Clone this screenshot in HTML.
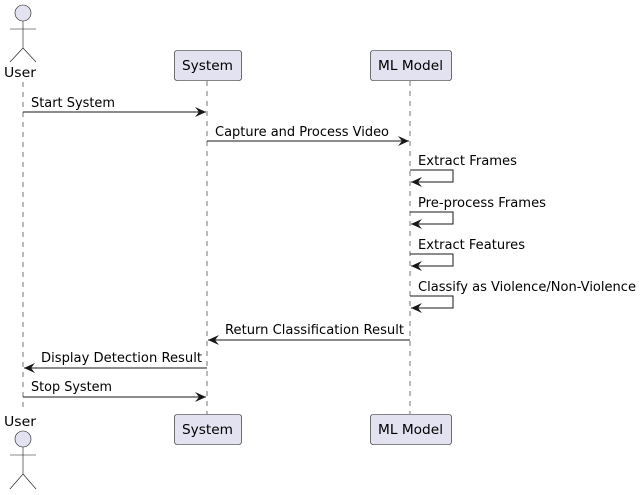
<!DOCTYPE html>
<html><head><meta charset="utf-8"><style>body{margin:0;background:#fff}svg{display:block}</style></head><body>
<svg width="643" height="495" xmlns="http://www.w3.org/2000/svg" font-family="DejaVu Sans, Liberation Sans, sans-serif" font-size="13">
<defs><marker id="a" markerWidth="12" markerHeight="10" refX="11" refY="5" orient="auto" markerUnits="userSpaceOnUse"><path d="M0,0 L11,5 L0,10 L4,5 Z" fill="#181818"/></marker></defs>
<g stroke="#181818" stroke-width="0.6" stroke-dasharray="5,5">
<line x1="23" y1="82" x2="23" y2="412"/><line x1="207" y1="81" x2="207" y2="414"/><line x1="410" y1="81" x2="410" y2="414"/></g>
<g fill="#E2E2F0" stroke="#181818" stroke-width="0.6">
<rect x="174.5" y="50.5" width="67" height="30" rx="2.5"/><rect x="370.5" y="50.5" width="81" height="30" rx="2.5"/>
<rect x="174.5" y="414.5" width="67" height="30" rx="2.5"/><rect x="370.5" y="414.5" width="81" height="30" rx="2.5"/>
<circle cx="23" cy="13" r="8"/><circle cx="23" cy="439" r="8"/></g>
<g stroke="#181818" stroke-width="0.6" fill="none">
<path d="M23,21 V48 M10,29 H36 M10,62 L23,48 L36,62"/>
<path d="M23,447 V474 M10,455 H36 M10,489 L23,474 L36,489"/></g>
<g fill="#000">
<text x="4" y="77" textLength="32" lengthAdjust="spacingAndGlyphs">User</text><text x="4" y="426" textLength="32" lengthAdjust="spacingAndGlyphs">User</text>
<text x="182" y="70" textLength="51" lengthAdjust="spacingAndGlyphs">System</text><text x="182" y="434" textLength="51" lengthAdjust="spacingAndGlyphs">System</text>
<text x="378" y="70" textLength="65" lengthAdjust="spacingAndGlyphs">ML Model</text><text x="378" y="434" textLength="65" lengthAdjust="spacingAndGlyphs">ML Model</text>
<text x="31" y="107" textLength="84" lengthAdjust="spacingAndGlyphs">Start System</text>
<text x="215" y="136" textLength="174" lengthAdjust="spacingAndGlyphs">Capture and Process Video</text>
<text x="418" y="165" textLength="99" lengthAdjust="spacingAndGlyphs">Extract Frames</text>
<text x="418" y="207" textLength="128" lengthAdjust="spacingAndGlyphs">Pre-process Frames</text>
<text x="418" y="249" textLength="107" lengthAdjust="spacingAndGlyphs">Extract Features</text>
<text x="418" y="291" textLength="218" lengthAdjust="spacingAndGlyphs">Classify as Violence/Non-Violence</text>
<text x="225" y="334" textLength="179" lengthAdjust="spacingAndGlyphs">Return Classification Result</text>
<text x="41" y="362" textLength="161" lengthAdjust="spacingAndGlyphs">Display Detection Result</text>
<text x="31" y="391" textLength="81" lengthAdjust="spacingAndGlyphs">Stop System</text></g>
<g stroke="#181818" stroke-width="1" fill="none" marker-end="url(#a)">
<line x1="23" y1="112" x2="206" y2="112"/>
<line x1="207" y1="141" x2="409" y2="141"/>
<path d="M410,170 H453 V182 H411"/>
<path d="M410,212 H453 V224 H411"/>
<path d="M410,254 H453 V266 H411"/>
<path d="M410,296 H453 V308 H411"/>
<line x1="410" y1="340" x2="208" y2="340"/>
<line x1="207" y1="368" x2="24" y2="368"/>
<line x1="23" y1="397" x2="206" y2="397"/></g>
</svg>
</body></html>
